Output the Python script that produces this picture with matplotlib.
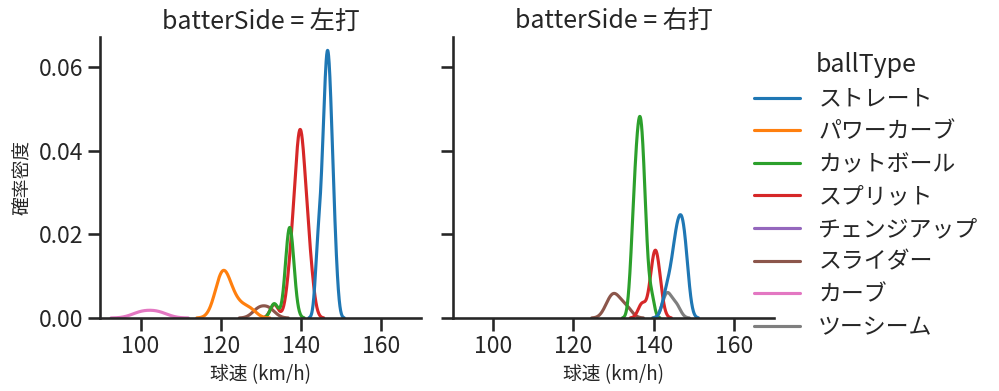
import warnings
import pandas as pd
import seaborn as sns
import matplotlib.pyplot as plt

warnings.filterwarnings("ignore")

# pitch speeds (km/h), one list per batter side and pitch type
left_straight = [143.9, 144.2, 144.4, 144.9, 145.2, 145.4, 145.6, 145.7, 145.9,
                 146.0, 146.2, 146.3, 146.4, 146.5, 146.6, 146.7, 146.8, 146.9,
                 147.0, 147.2, 147.3, 147.5, 147.6, 147.8, 148.0, 148.3, 148.8]
left_power_curve = [119.0, 120.0, 120.3, 120.6, 121.0, 121.6, 122.8, 124.6, 127.2]
left_cutter = [133.3, 136.5, 136.8, 137.0, 137.1, 137.3, 137.6, 137.9]
left_split = [133.3, 136.9, 137.5, 137.8, 138.2, 138.5, 138.8, 139.0, 139.2,
              139.4, 139.5, 139.6, 139.7, 139.8, 139.9, 140.1, 140.2, 140.4,
              140.6, 140.8, 141.1, 141.4, 141.8, 142.1, 142.6]
left_changeup = [128.0]
left_slider = [129.4, 132.0]
left_curve = [100.2, 104.3]

right_straight = [142.8, 143.8, 144.5, 145.2, 145.5, 145.7, 146.1, 146.5,
                  146.8, 147.0, 147.3, 147.6, 148.0, 148.3]
right_cutter = [134.3, 134.8, 135.1, 135.3, 135.5, 135.7, 135.9, 136.0, 136.3,
                136.4, 136.5, 136.7, 136.8, 137.0, 137.1, 137.3, 137.5, 137.7,
                137.9, 138.4, 139.5]
right_split = [137.1, 139.4, 139.9, 140.3, 140.6, 140.9, 141.5]
right_slider = [128.8, 130.0, 131.0, 133.2]
right_two_seam = [143.0, 143.6, 145.6]

sides = ["左打", "右打"]
ball_types = ["ストレート", "パワーカーブ", "カットボール", "スプリット",
              "チェンジアップ", "スライダー", "カーブ", "ツーシーム"]

groups = [
    ("左打", "ストレート", left_straight),
    ("左打", "パワーカーブ", left_power_curve),
    ("左打", "カットボール", left_cutter),
    ("左打", "スプリット", left_split),
    ("左打", "チェンジアップ", left_changeup),
    ("左打", "スライダー", left_slider),
    ("左打", "カーブ", left_curve),
    ("右打", "ストレート", right_straight),
    ("右打", "カットボール", right_cutter),
    ("右打", "スプリット", right_split),
    ("右打", "スライダー", right_slider),
    ("右打", "ツーシーム", right_two_seam),
]
rows = [(side, bt, v) for side, bt, vals in groups for v in vals]
df = pd.DataFrame(rows, columns=["batterSide", "ballType", "speed"])

sns.set_theme(style="ticks", context="talk", palette="tab10")
plt.rcParams["font.family"] = ["Noto Sans CJK JP", "DejaVu Sans"]
plt.rcParams["legend.labelspacing"] = 0.42

g = sns.displot(df, x="speed", hue="ballType", col="batterSide", kind="kde",
                hue_order=ball_types, col_order=sides, palette="tab10",
                height=3.5, aspect=1.0)
g.set_axis_labels("球速 (km/h)", "確率密度", fontsize=13.5)
g.set(xlim=(90, 170))

fig = g.figure
fig.set_size_inches(9.99, 3.91)
g.axes[0, 0].set_position([0.1006, 0.1867, 0.3213, 0.7187])
g.axes[0, 1].set_position([0.4535, 0.1867, 0.3213, 0.7187])

fig.savefig("out.png", dpi=100)
